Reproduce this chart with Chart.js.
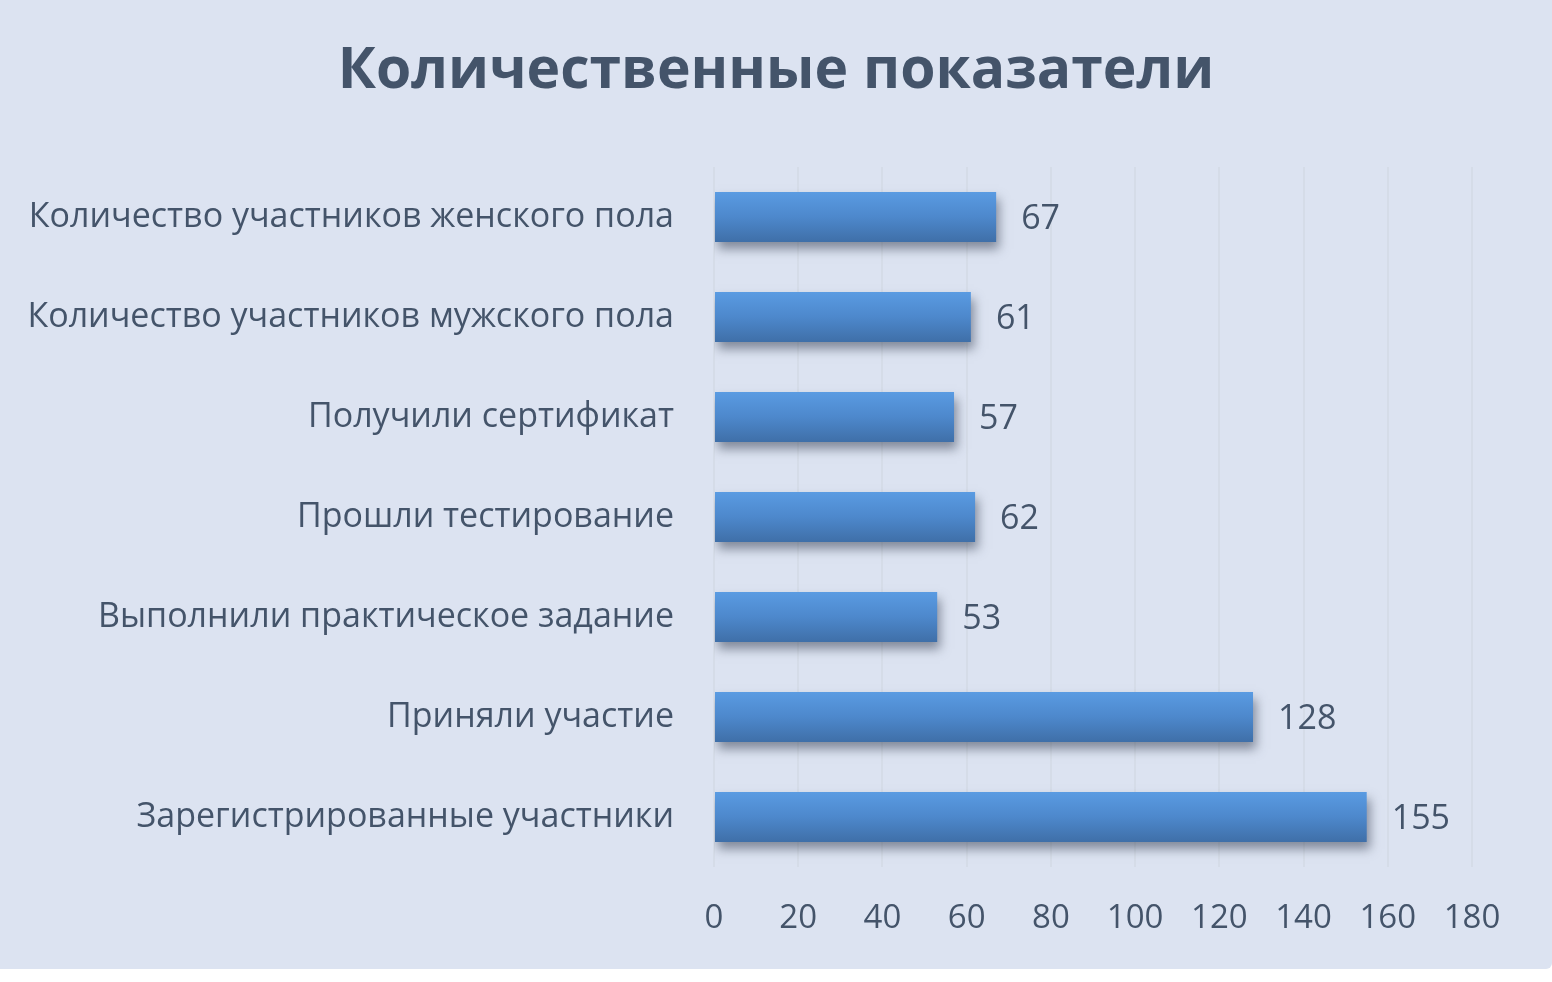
<!DOCTYPE html>
<html>
<head>
<meta charset="utf-8">
<script src="https://cdn.jsdelivr.net/npm/chart.js@4"></script>
<style>
    html, body { margin: 0; padding: 0; background: #ffffff; }
    .wrap { width: 1552px; height: 969px; background: #dce3f1; border-radius: 0 0 6px 0; }
</style>
</head>
<body>
<div class="wrap"><canvas id="qtyChart" width="1552" height="969"></canvas></div>
<script>
const categories = [
    'Количество участников женского пола',
    'Количество участников мужского пола',
    'Получили сертификат',
    'Прошли тестирование',
    'Выполнили практическое задание',
    'Приняли участие',
    'Зарегистрированные участники'
];
const values = [67, 61, 57, 62, 53, 128, 155];
const tickValues = [0, 20, 40, 60, 80, 100, 120, 140, 160, 180];
const titleText = 'Количественные показатели';

const FONT = '"Open Sans", "Noto Sans", sans-serif';
const TEXT_COLOR = '#44546a';

// bar drop shadow
const shadowPlugin = {
    id: 'barShadow',
    beforeDatasetsDraw(chart) {
        const ctx = chart.ctx;
        ctx.save();
        ctx.shadowColor = 'rgba(40,50,70,0.5)';
        ctx.shadowBlur = 10;
        ctx.shadowOffsetX = 3;
        ctx.shadowOffsetY = 7;
    },
    afterDatasetsDraw(chart) {
        chart.ctx.restore();
    }
};

// value labels next to bars + title centred on the whole canvas
const textPlugin = {
    id: 'textPlugin',
    afterDraw(chart) {
        const ctx = chart.ctx;
        const meta = chart.getDatasetMeta(0);
        ctx.save();
        ctx.font = '34px ' + FONT;
        ctx.fillStyle = TEXT_COLOR;
        ctx.textAlign = 'left';
        ctx.textBaseline = 'middle';
        meta.data.forEach((bar, i) => {
            ctx.fillText(String(values[i]), bar.x + 25, bar.y + 2);
        });
        ctx.font = 'bold 57px ' + FONT;
        ctx.textAlign = 'center';
        ctx.fillText(titleText, chart.width / 2, 72);
        ctx.restore();
    }
};

function barGradient(context) {
    const chart = context.chart;
    if (!chart.chartArea || !chart.scales.y) return '#4a86c8';
    const yScale = chart.scales.y;
    const y = yScale.getPixelForValue(context.dataIndex);
    const half = (yScale.height / categories.length) * 0.5 / 2;
    const g = chart.ctx.createLinearGradient(0, y - half, 0, y + half);
    g.addColorStop(0, '#5a9be2');
    g.addColorStop(0.5, '#4d88cc');
    g.addColorStop(1, '#3f6fa8');
    return g;
}

new Chart(document.getElementById('qtyChart').getContext('2d'), {
    type: 'bar',
    data: {
        labels: categories,
        datasets: [{
            data: values,
            backgroundColor: barGradient,
            borderWidth: 0,
            categoryPercentage: 1,
            barPercentage: 0.5
        }]
    },
    options: {
        indexAxis: 'y',
        responsive: false,
        animation: false,
        layout: { padding: { left: 0, right: 80, top: 167, bottom: 0 } },
        scales: {
            x: {
                min: 0,
                max: 180,
                afterBuildTicks: axis => { axis.ticks = tickValues.map(v => ({ value: v })); },
                afterFit: axis => { axis.height = 102; },
                border: { display: false },
                grid: { color: '#d5dce8', lineWidth: 2, drawTicks: false },
                ticks: {
                    padding: 32,
                    color: TEXT_COLOR,
                    font: { family: FONT, size: 33 }
                }
            },
            y: {
                afterFit: axis => { axis.width = 714; },
                border: { display: false },
                grid: { display: false, drawTicks: false },
                ticks: {
                    padding: 40,
                    color: TEXT_COLOR,
                    font: { family: FONT, size: 34 }
                }
            }
        },
        plugins: {
            legend: { display: false },
            tooltip: { enabled: false },
            title: { display: false }
        }
    },
    plugins: [shadowPlugin, textPlugin]
});
</script>
</body>
</html>
